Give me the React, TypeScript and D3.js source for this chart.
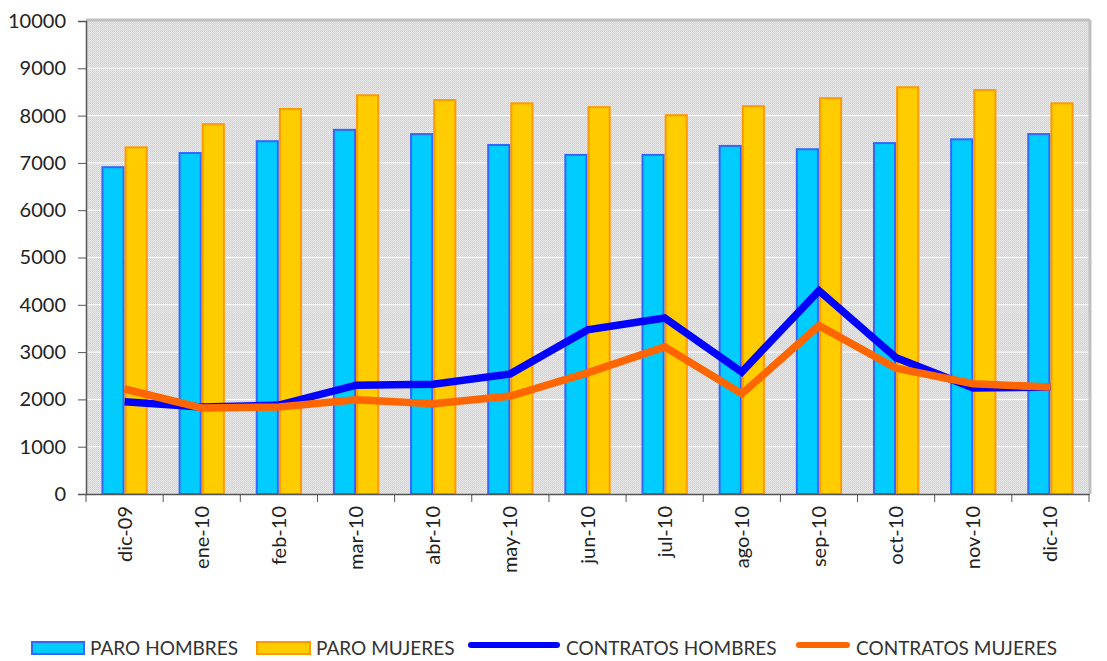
import React, { useRef, useEffect } from 'react';
import * as d3 from 'd3';

const categories = ['dic-09', 'ene-10', 'feb-10', 'mar-10', 'abr-10', 'may-10', 'jun-10', 'jul-10', 'ago-10', 'sep-10', 'oct-10', 'nov-10', 'dic-10'];
const paroHombres = [6930, 7230, 7480, 7720, 7630, 7400, 7190, 7190, 7380, 7310, 7440, 7520, 7630];
const paroMujeres = [7350, 7840, 8160, 8450, 8350, 8280, 8200, 8030, 8220, 8390, 8620, 8560, 8280];
const contratosHombres = [1950, 1840, 1880, 2300, 2320, 2540, 3470, 3720, 2580, 4300, 2880, 2240, 2260];
const contratosMujeres = [2220, 1820, 1840, 1990, 1910, 2070, 2560, 3110, 2120, 3560, 2660, 2330, 2260];
const yTicks = [0, 1000, 2000, 3000, 4000, 5000, 6000, 7000, 8000, 9000, 10000];

const FONT = 'Lato, "DejaVu Sans", sans-serif';

const App = () => {
  const svgRef = useRef<SVGSVGElement>(null);
  const W = 1107;
  const H = 661;
  const margin = { top: 21, right: 18, bottom: 167, left: 86 };
  const width = W - margin.left - margin.right;
  const height = H - margin.top - margin.bottom;

  useEffect(() => {
    const svg = d3.select(svgRef.current);
    svg.selectAll('*').remove();

    const defs = svg.append('defs');
    const pat = defs.append('pattern')
      .attr('id', 'dots')
      .attr('width', 2)
      .attr('height', 2)
      .attr('patternUnits', 'userSpaceOnUse');
    pat.append('rect').attr('width', 2).attr('height', 2).attr('fill', '#e6e6e6');
    pat.append('rect').attr('width', 1).attr('height', 1).attr('fill', '#d2d2d2');
    pat.append('rect').attr('x', 1).attr('y', 1).attr('width', 1).attr('height', 1).attr('fill', '#d8d8d8');

    const g = svg.append('g').attr('transform', `translate(${margin.left},${margin.top})`);

    const x = d3.scaleBand().domain(categories).range([0, width]).paddingInner(0.4).paddingOuter(0.2);
    const xc = d3.scaleBand().domain(categories).range([0, width]);
    const x1 = d3.scaleBand().domain(['h', 'm']).range([0, x.bandwidth()]);
    const y = d3.scaleLinear().domain([0, 10000]).range([height, 0]);

    // plot background
    g.append('rect').attr('width', width).attr('height', height).attr('fill', 'url(#dots)');

    // gridlines
    g.append('g').selectAll('line').data(yTicks.slice(1, -1)).join('line')
      .attr('x1', 0).attr('x2', width)
      .attr('y1', d => y(d)).attr('y2', d => y(d))
      .attr('stroke', '#ffffff').attr('stroke-width', 1);

    // frame top / right
    g.append('line').attr('x1', 0).attr('x2', width + 1).attr('y1', -1).attr('y2', -1)
      .attr('stroke', '#c0c0c0').attr('stroke-width', 3);
    g.append('line').attr('x1', width + 1).attr('x2', width + 1).attr('y1', -1).attr('y2', height)
      .attr('stroke', '#c0c0c0').attr('stroke-width', 3);

    // bars
    const series = [
      { key: 'h', values: paroHombres, fill: '#00ccff', stroke: '#3366ff' },
      { key: 'm', values: paroMujeres, fill: '#ffcc00', stroke: '#ff9900' },
    ];
    series.forEach(s => {
      g.append('g').selectAll('rect').data(s.values).join('rect')
        .attr('x', (d, i) => (x(categories[i]) as number) + (x1(s.key) as number) + 1)
        .attr('y', d => y(d) + 1)
        .attr('width', x1.bandwidth() - 2)
        .attr('height', d => height - y(d) - 1)
        .attr('fill', s.fill)
        .attr('stroke', s.stroke)
        .attr('stroke-width', 2);
    });

    // lines
    const line = d3.line<number>()
      .x((d, i) => (xc(categories[i]) as number) + xc.bandwidth() / 2)
      .y(d => y(d));
    g.append('path').datum(contratosHombres).attr('d', line)
      .attr('fill', 'none').attr('stroke', '#0000ff').attr('stroke-width', 7.5);
    g.append('path').datum(contratosMujeres).attr('d', line)
      .attr('fill', 'none').attr('stroke', '#ff6600').attr('stroke-width', 7.5);

    // y axis
    const yAxis = g.append('g').call(d3.axisLeft(y).tickValues(yTicks).tickSize(8).tickPadding(12).tickFormat(d3.format('d')));
    yAxis.select('.domain').attr('stroke', '#555').attr('stroke-width', 1.5);
    yAxis.selectAll('.tick line').attr('stroke', '#555');
    yAxis.selectAll('text').attr('font-family', FONT).attr('font-size', 20).attr('fill', '#222');

    // x axis
    const xAxis = g.append('g').attr('transform', `translate(0,${height})`)
      .call(d3.axisBottom(xc).tickSize(0).tickPadding(0));
    xAxis.select('.domain').attr('stroke', '#555').attr('stroke-width', 1.5);
    xAxis.selectAll('.tick text')
      .attr('font-family', FONT).attr('font-size', 20).attr('fill', '#222')
      .attr('text-anchor', 'end')
      .attr('transform', 'rotate(-90)')
      .attr('x', -12).attr('y', 0).attr('dy', '0.35em');
    g.append('g').selectAll('line').data(d3.range(categories.length + 1)).join('line')
      .attr('x1', i => i * xc.step()).attr('x2', i => i * xc.step())
      .attr('y1', height).attr('y2', height + 8)
      .attr('stroke', '#555');

    // legend
    const ly = 648;
    const leg = svg.append('g').attr('font-family', FONT).attr('font-size', 19).attr('fill', '#333');
    const items = [
      { label: 'PARO HOMBRES', type: 'rect', fill: '#00ccff', stroke: '#3366ff', x: 32, w: 52 },
      { label: 'PARO MUJERES', type: 'rect', fill: '#ffcc00', stroke: '#ff9900', x: 257, w: 53 },
      { label: 'CONTRATOS HOMBRES', type: 'line', fill: '#0000ff', stroke: '#0000ff', x: 468, w: 92 },
      { label: 'CONTRATOS MUJERES', type: 'line', fill: '#ff6600', stroke: '#ff6600', x: 796, w: 54 },
    ];
    items.forEach(it => {
      if (it.type === 'rect') {
        leg.append('rect').attr('x', it.x).attr('y', ly - 6).attr('width', it.w).attr('height', 12)
          .attr('fill', it.fill).attr('stroke', it.stroke).attr('stroke-width', 2);
      } else {
        leg.append('line').attr('x1', it.x + 3).attr('x2', it.x + it.w - 3).attr('y1', ly - 3).attr('y2', ly - 3)
          .attr('stroke', it.stroke).attr('stroke-width', 6).attr('stroke-linecap', 'round');
      }
      leg.append('text').attr('x', it.x + it.w + 6).attr('y', ly).attr('dy', '0.35em').text(it.label);
    });
  }, []);

  return (
    <svg ref={svgRef} width={W} height={H} style={{ position: 'absolute', left: 0, top: 0, background: '#fff' }} />
  );
};

export default App;
